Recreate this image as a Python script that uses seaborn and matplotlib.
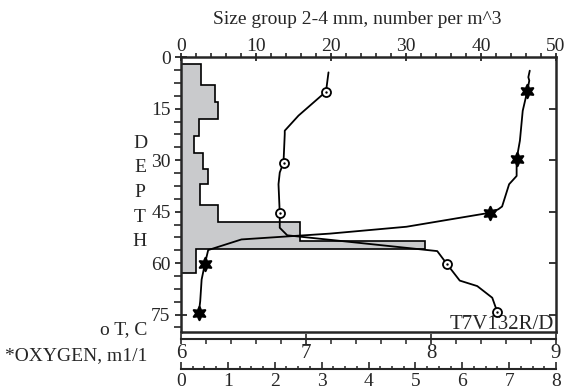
import numpy as np
import matplotlib
matplotlib.use("Agg")
import matplotlib.pyplot as plt
from matplotlib.ticker import MultipleLocator, NullFormatter
import seaborn as sns

# ---- data ----
bin_edges = [2, 8, 13, 18, 23, 28, 32.5, 37, 43, 48, 53.5, 56, 63]
bin_counts = [2.7, 4.5, 4.9, 2.4, 1.7, 2.9, 3.6, 2.5, 4.9, 15.9, 32.5, 2.0]

temp_depth = [4.4, 10.0, 17.0, 21.4, 22.4, 30.7, 33.6, 37.0, 45.5, 49.7, 51.9, 56.5, 60.4, 65.1, 66.7, 70.1, 74.2]
temp_vals = [7.18, 7.16, 6.94, 6.83, 6.83, 6.82, 6.79, 6.78, 6.79, 6.79, 6.85, 8.05, 8.13, 8.23, 8.37, 8.49, 8.53]
temp_mark_depth = [10.0, 30.7, 45.5, 60.4, 74.2]
temp_mark_vals = [7.16, 6.82, 6.79, 8.13, 8.53]

o2_depth = [3.9, 5.8, 6.8, 9.7, 15.6, 24.3, 29.7, 34.6, 37.0, 43.5, 44.3, 45.3, 49.4, 51.4, 53.1, 56.2, 60.2, 64.8, 71.1, 74.5]
o2_vals = [7.44, 7.41, 7.43, 7.39, 7.29, 7.23, 7.16, 7.16, 7.00, 6.85, 6.77, 6.60, 4.81, 3.18, 1.29, 0.58, 0.51, 0.44, 0.41, 0.38]
o2_mark_depth = [9.7, 29.7, 45.3, 60.2, 74.5]
o2_mark_vals = [7.39, 7.16, 6.60, 0.51, 0.38]

depth_ticks = [0, 15, 30, 45, 60, 75]
count_ticks = [0, 10, 20, 30, 40, 50]
temp_ticks = [6, 7, 8, 9]
o2_ticks = [0, 1, 2, 3, 4, 5, 6, 7, 8]

# ---- style ----
sns.set_style("ticks")
plt.rcParams['font.family'] = ['Liberation Serif', 'DejaVu Serif']
plt.rcParams['axes.linewidth'] = 1.5

W, H = 571, 390
fig = plt.figure(figsize=(W / 100, H / 100), dpi=100)
L, R, T, B = 181, 556, 57.3, 331.7
ax = fig.add_axes([L / W, 1 - B / H, (R - L) / W, (B - T) / H])

FS = 14
# histogram
ax.stairs(bin_counts, bin_edges, orientation='horizontal', baseline=0,
          fill=True, facecolor='#c9cacc', edgecolor='none')
ax.stairs(bin_counts, bin_edges, orientation='horizontal', baseline=0,
          fill=False, color='black', linewidth=1.2)
ax.set_xlim(0, 50)
ax.set_ylim(80, 0)

# temperature axis
ax_t = ax.twiny()
ax_t.set_xlim(6, 9)
ax_t.xaxis.set_ticks_position('bottom')
ax_t.xaxis.set_label_position('bottom')
ax_t.spines['bottom'].set_position(('outward', 5))
for k in ['top', 'left', 'right']:
    ax_t.spines[k].set_visible(False)
ax_t.spines['bottom'].set_linewidth(1.5)

# oxygen axis
ax_o = ax.twiny()
ax_o.set_xlim(0, 8)
ax_o.xaxis.set_ticks_position('bottom')
ax_o.xaxis.set_label_position('bottom')
ax_o.spines['bottom'].set_position(('outward', 26.5))
for k in ['top', 'left', 'right']:
    ax_o.spines[k].set_visible(False)
ax_o.spines['bottom'].set_linewidth(1.5)

# lines
sns.lineplot(x=temp_vals, y=temp_depth, orient='y', sort=False, estimator=None,
             ax=ax_t, color='black', linewidth=1.3)
sns.scatterplot(x=temp_mark_vals, y=temp_mark_depth, ax=ax_t, marker='o', s=42,
                facecolor='white', edgecolor='black', linewidth=1.3, zorder=4)
sns.scatterplot(x=temp_mark_vals, y=temp_mark_depth, ax=ax_t, marker='o', s=3,
                color='black', linewidth=0, zorder=5)
sns.lineplot(x=o2_vals, y=o2_depth, orient='y', sort=False, estimator=None,
             ax=ax_o, color='black', linewidth=1.3)
sns.scatterplot(x=o2_mark_vals, y=o2_mark_depth, ax=ax_o, marker=(6, 1, 0), s=90,
                color='black', edgecolor='black', linewidth=1.6, zorder=4)
for a in (ax_t, ax_o):
    a.set_ylim(80, 0)
    a.set_xlabel('')
    a.set_ylabel('')
ax.set_xlabel('')
ax.set_ylabel('')

# tick config (after twins, which reset main x ticks)
ax_t.set_xticks(temp_ticks)
ax_t.xaxis.set_minor_locator(MultipleLocator(0.2))
ax_t.tick_params(axis='x', which='major', direction='inout', length=7, width=1.2,
                 labelsize=FS + 1, pad=0, bottom=True, top=False,
                 labelbottom=True, labeltop=False)
ax_t.tick_params(axis='x', which='minor', direction='out', length=3.5, width=1.1,
                 bottom=True, top=False)
ax_o.set_xticks(o2_ticks)
ax_o.xaxis.set_minor_locator(MultipleLocator(0.25))
ax_o.tick_params(axis='x', which='major', direction='in', length=5, width=1.2,
                 labelsize=FS, pad=3.5, bottom=True, top=False,
                 labelbottom=True, labeltop=False)
ax_o.tick_params(axis='x', which='minor', direction='in', length=2.5, width=1.1,
                 bottom=True, top=False)

ax.set_xticks(count_ticks)
ax.xaxis.set_minor_locator(MultipleLocator(2))
ax.tick_params(axis='x', which='major', direction='inout', length=6, width=1.3,
               labelsize=FS, pad=-1.5, top=True, bottom=False,
               labeltop=True, labelbottom=False)
ax.tick_params(axis='x', which='minor', direction='out', length=3, width=1.2,
               top=True, bottom=False)
ax.set_yticks(depth_ticks)
ax.yaxis.set_minor_locator(MultipleLocator(3.75))
ax.tick_params(axis='y', which='major', direction='inout', length=9, width=1.3,
               labelsize=FS, pad=3, left=True, right=False)
ax.tick_params(axis='y', which='minor', direction='out', length=5, width=1.2,
               left=True, right=False)
for s in ax.spines.values():
    s.set_linewidth(1.8)

# right ticks pointing in
sec = ax.secondary_yaxis('right')
sec.set_yticks(depth_ticks[1:])
sec.tick_params(axis='y', direction='in', length=5, width=1.3, labelright=False)
sec.spines['right'].set_visible(False)

# texts
fig.text(357 / W, 1 - 20 / H, 'Size group 2-4 mm, number per m^3', ha='center',
         va='center', fontsize=FS)
for i, ch in enumerate('DEPTH'):
    fig.text(140 / W, 1 - (143 + 24.7 * i) / H, ch, ha='center', va='center', fontsize=FS)
fig.text(147 / W, 1 - 330 / H, 'o T, C', ha='right', va='center', fontsize=FS)
fig.text(147 / W, 1 - 356 / H, '*OXYGEN, m1/1', ha='right', va='center', fontsize=FS)
ax.text(0.995, 0.01, 'T7V132R/D', transform=ax.transAxes, ha='right', va='baseline',
        fontsize=15)

fig.savefig('out.png', dpi=100)
